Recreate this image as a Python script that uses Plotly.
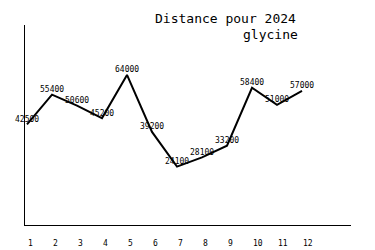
import plotly.graph_objects as go

months = [1, 2, 3, 4, 5, 6, 7, 8, 9, 10, 11, 12]
month_labels = ["1", "2", "3", "4", "5", "6", "7", "8", "9", "10", "11", "12"]
distances = [42500, 55400, 50600, 45200, 64000, 39200, 24100, 28100, 33200, 58400, 51000, 57000]
title_lines = ["Distance pour 2024", "glycine"]

mono = "DejaVu Sans Mono"

fig = go.Figure()
fig.add_trace(go.Scatter(x=months, y=distances, mode="lines",
                         line=dict(color="black", width=2), hoverinfo="skip"))

annotations = []
for m, v in zip(months, distances):
    annotations.append(dict(x=m, y=v, xref="x", yref="y", text=str(v), showarrow=False,
                            yshift=5, font=dict(family=mono, size=8, color="black")))
for m, lab in zip(months, month_labels):
    annotations.append(dict(x=m, y=0, xref="x", yref="paper", text=lab, showarrow=False,
                            xanchor="left", yanchor="middle", xshift=-1, yshift=-18,
                            font=dict(family=mono, size=8, color="black")))

# plot area: x 25..351, y 25..225 in pixels
annotations.append(dict(x=(298 - 25) / 326, y=(225 - 19) / 200, xref="paper", yref="paper",
                        text=title_lines[0], showarrow=False, xanchor="right", yanchor="middle",
                        font=dict(family=mono, size=13, color="black")))
annotations.append(dict(x=(300 - 25) / 326, y=(225 - 34) / 200, xref="paper", yref="paper",
                        text=title_lines[1], showarrow=False, xanchor="right", yanchor="middle",
                        font=dict(family=mono, size=13, color="black")))

fig.update_layout(
    width=375, height=250,
    margin=dict(l=25, r=24, t=25, b=25),
    paper_bgcolor="white", plot_bgcolor="white",
    showlegend=False,
    xaxis=dict(range=[0.92, 13.96], showgrid=False, zeroline=False, showticklabels=False,
               ticks="", showline=True, linecolor="black", linewidth=1, fixedrange=True),
    yaxis=dict(range=[-1300, 85700], showgrid=False, zeroline=False, showticklabels=False,
               ticks="", showline=True, linecolor="black", linewidth=1, fixedrange=True),
    annotations=annotations,
)
fig.write_html("out.html")
